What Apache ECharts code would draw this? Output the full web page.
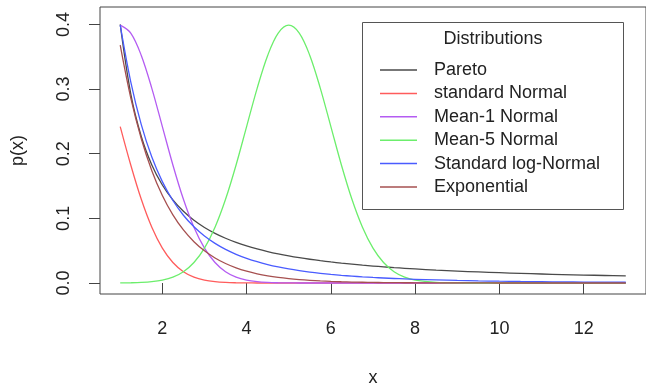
<!DOCTYPE html>
<html>
<head>
<meta charset="utf-8">
<script src="https://cdn.jsdelivr.net/npm/echarts@6/dist/echarts.min.js"></script>
<style>
  html, body { margin: 0; padding: 0; background: #fff; }
  #box { width: 646px; height: 392px; }
</style>
</head>
<body>
<div id="box"></div>
<script>
var xs = [1, 1.25, 1.5, 1.75, 2, 2.25, 2.5, 2.75, 3, 3.25, 3.5, 3.75, 4, 4.25, 4.5, 4.75,
  5, 5.25, 5.5, 5.75, 6, 6.25, 6.5, 6.75, 7, 7.25, 7.5, 7.75, 8, 8.5, 9, 9.5, 10, 10.5,
  11, 11.5, 12, 12.5, 13];

var pareto = [0.4, 0.29268, 0.22674, 0.18273, 0.15157, 0.12853, 0.1109, 0.09705, 0.08592,
  0.07681, 0.06924, 0.06287, 0.05743, 0.05276, 0.0487, 0.04515, 0.04202, 0.03925, 0.03678,
  0.03456, 0.03256, 0.03075, 0.02911, 0.02761, 0.02624, 0.02498, 0.02382, 0.02275, 0.02176,
  0.01999, 0.01845, 0.01711, 0.01592, 0.01487, 0.01393, 0.01309, 0.01234, 0.01165, 0.01103];

var stdNormal = [0.24197, 0.18265, 0.12952, 0.08628, 0.05399, 0.03174, 0.01753, 0.00909,
  0.00443, 0.00203, 0.00087, 0.00035, 0.00013, 0.00005, 0.00002, 0, 0, 0, 0, 0, 0, 0, 0, 0,
  0, 0, 0, 0, 0, 0, 0, 0, 0, 0, 0, 0, 0, 0, 0];

var mean1 = [0.39894, 0.38667, 0.35207, 0.30114, 0.24197, 0.18265, 0.12952, 0.08628, 0.05399,
  0.03174, 0.01753, 0.00909, 0.00443, 0.00203, 0.00087, 0.00035, 0.00013, 0.00005, 0.00002,
  0, 0, 0, 0, 0, 0, 0, 0, 0, 0, 0, 0, 0, 0, 0, 0, 0, 0, 0, 0];

var mean5 = [0.00013, 0.00035, 0.00087, 0.00203, 0.00443, 0.00909, 0.01753, 0.03174, 0.05399,
  0.08628, 0.12952, 0.18265, 0.24197, 0.30114, 0.35207, 0.38667, 0.39894, 0.38667, 0.35207,
  0.30114, 0.24197, 0.18265, 0.12952, 0.08628, 0.05399, 0.03174, 0.01753, 0.00909, 0.00443,
  0.00087, 0.00013, 0.00002, 0, 0, 0, 0, 0, 0, 0];

var logNormal = [0.39894, 0.3113, 0.24497, 0.19493, 0.15687, 0.12762, 0.10487, 0.08697, 0.07272,
  0.06128, 0.052, 0.04441, 0.03815, 0.03295, 0.0286, 0.02495, 0.02185, 0.01922, 0.01696,
  0.01503, 0.01335, 0.01191, 0.01065, 0.00955, 0.00858, 0.00773, 0.00699, 0.00633, 0.00574,
  0.00475, 0.00397, 0.00333, 0.00282, 0.00239, 0.00205, 0.00176, 0.00152, 0.00131, 0.00114];

var expo = [0.36788, 0.2865, 0.22313, 0.17377, 0.13534, 0.1054, 0.08208, 0.06393, 0.04979,
  0.03877, 0.0302, 0.02352, 0.01832, 0.01426, 0.01111, 0.00865, 0.00674, 0.00525, 0.00409,
  0.00318, 0.00248, 0.00193, 0.0015, 0.00117, 0.00091, 0.00071, 0.00055, 0.00043, 0.00034,
  0.0002, 0.00012, 0.00007, 0.00005, 0.00003, 0.00002, 0.00001, 0.00001, 0, 0];

var names = ['Pareto', 'standard Normal', 'Mean-1 Normal', 'Mean-5 Normal', 'Standard log-Normal', 'Exponential'];
var xTicks = [2, 4, 6, 8, 10, 12];
var yTicks = [0, 0.1, 0.2, 0.3, 0.4];

var font = "'Liberation Sans', Arial, Helvetica, sans-serif";
var colors = ['#4a4a4a', '#ff5c5c', '#b45cf2', '#6cee6c', '#4a5cff', '#a65050'];
var allVals = [pareto, stdNormal, mean1, mean5, logNormal, expo];

function pairs(vals) {
  return xs.map(function (x, i) { return [x, vals[i]]; });
}

var series = names.map(function (n, i) {
  return {
    name: n,
    type: 'line',
    data: pairs(allVals[i]),
    symbol: 'none',
    smooth: 0.35,
    lineStyle: { width: 1.3, color: colors[i] },
    itemStyle: { color: colors[i] },
    silent: true
  };
});

var chart = echarts.init(document.getElementById('box'));
chart.setOption({
  animation: false,
  textStyle: { fontFamily: font },
  grid: {
    left: 100, top: 7, width: 551, height: 287,
    show: true, borderColor: '#444', borderWidth: 1, backgroundColor: 'transparent'
  },
  xAxis: {
    type: 'value', min: 0.52, max: 13.48,
    name: 'x', nameLocation: 'middle', nameGap: 75,
    nameTextStyle: { fontSize: 18, color: '#222', fontFamily: font },
    axisLine: { show: false },
    axisTick: { show: true, customValues: xTicks, length: 11, lineStyle: { color: '#444' } },
    axisLabel: { customValues: xTicks, fontSize: 18, color: '#222', margin: 26, fontFamily: font },
    splitLine: { show: false }
  },
  yAxis: {
    type: 'value', min: -0.017, max: 0.427,
    name: 'p(x)', nameLocation: 'middle', nameGap: 73, nameRotate: 90,
    nameTextStyle: { fontSize: 18, color: '#222', fontFamily: font },
    axisLine: { show: false },
    axisTick: { show: true, customValues: yTicks, length: 11, lineStyle: { color: '#444' } },
    axisLabel: {
      customValues: yTicks, fontSize: 18, color: '#222', margin: 27, rotate: 90, fontFamily: font,
      formatter: function (v) { return v.toFixed(1); }
    },
    splitLine: { show: false }
  },
  legend: {
    data: names,
    orient: 'vertical',
    left: 375, top: 55,
    icon: 'rect', itemWidth: 37, itemHeight: 1.5, itemGap: 3.4,
    selectedMode: false,
    textStyle: { fontSize: 18, color: '#222', lineHeight: 20, padding: [0, 0, 0, 12], fontFamily: font }
  },
  graphic: [
    { type: 'rect', shape: { x: 362.5, y: 22.5, width: 261, height: 187 },
      style: { fill: '#fff', stroke: '#555', lineWidth: 1 }, z: -1 },
    { type: 'text', x: 493, y: 39,
      style: { text: 'Distributions', fontSize: 18, fill: '#222', align: 'center', verticalAlign: 'middle', fontFamily: font } }
  ],
  series: series
});
</script>
</body>
</html>
